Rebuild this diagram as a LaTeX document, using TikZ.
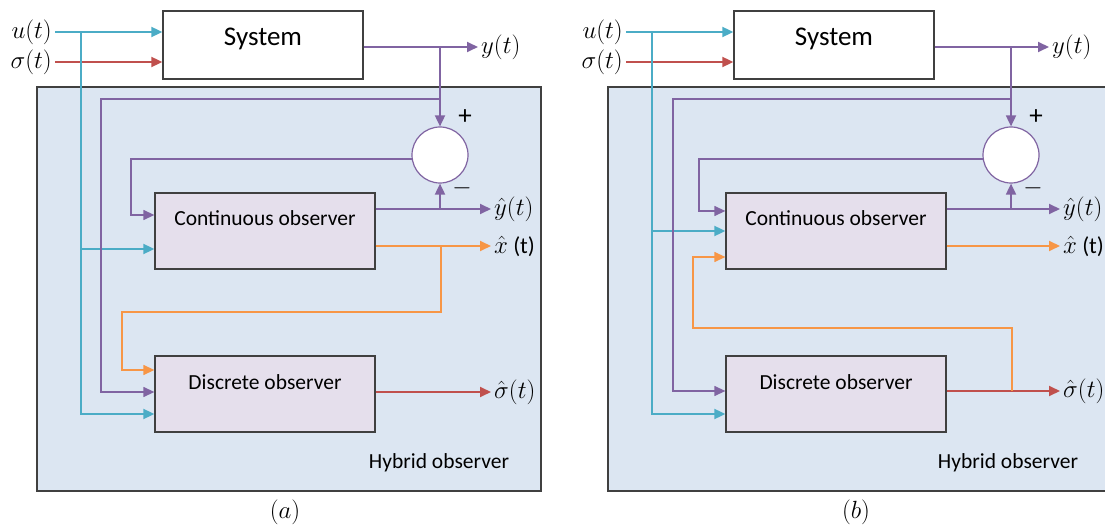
\documentclass[tikz,border=0pt]{standalone}
\usepackage{fontspec}
\setmainfont{Carlito}
\usetikzlibrary{arrows.meta, positioning, calc}
\definecolor{cyanline}{HTML}{4BACC6}
\definecolor{redline}{HTML}{C0504D}
\definecolor{purpleline}{HTML}{8064A2}
\definecolor{orangeline}{HTML}{F79646}
\definecolor{hybfill}{HTML}{DCE6F2}
\definecolor{obsfill}{HTML}{E5DFEC}
\definecolor{boxline}{HTML}{404040}
\tikzset{
    sysbox/.style={rectangle, draw=boxline, fill=white, line width=1.3pt, minimum width=200pt, minimum height=68pt, text height=20pt, text depth=18pt, inner sep=0pt, font=\fontsize{27}{30}\selectfont},
    obsbox/.style={rectangle, draw=boxline, fill=obsfill, line width=1.3pt, minimum width=220pt, minimum height=76pt, text height=15pt, text depth=25pt, inner sep=0pt, font=\fontsize{21.5}{26}\selectfont},
    hybbox/.style={rectangle, draw=boxline, fill=hybfill, line width=1.3pt, minimum height=404pt, inner sep=0pt},
    sumnode/.style={circle, draw=purpleline, fill=white, line width=1.2pt, minimum size=56pt, inner sep=0pt},
    siglabel/.style={inner sep=3pt, font=\fontsize{23}{26}\selectfont},
    plainlabel/.style={inner sep=0pt, font=\fontsize{21.5}{26}\selectfont},
    signlabel/.style={inner sep=0pt, font=\fontsize{27}{30}\selectfont},
    tip/.style={-{Triangle[length=11pt,width=10pt]}},
    cyanarr/.style={tip, draw=cyanline, line width=1.8pt},
    cyanthin/.style={draw=cyanline, line width=1.3pt},
    redarr/.style={tip, draw=redline, line width=1.8pt},
    purparr/.style={tip, draw=purpleline, line width=1.8pt},
    purpthin/.style={tip, draw=purpleline, line width=1.3pt},
    orangearr/.style={tip, draw=orangeline, line width=1.8pt},
    orangethin/.style={tip, draw=orangeline, line width=1.3pt}
}
\begin{document}
\begin{tikzpicture}[x=1pt, y=-1pt]
    \useasboundingbox (0,0) rectangle (1105,526);

    % (a)
    \node[hybbox, minimum width=504pt] (hyba) at (289,289) {};
    \node[sysbox] (sysa) at (263,45) {System};
    \node[obsbox] (conta) at (265,231) {Continuous observer};
    \node[obsbox] (disca) at (265,394) {Discrete observer};
    \node[sumnode] (suma) at (440,155) {};
    \node[signlabel] (plusa) at (465,117) {+};
    \node[signlabel] (minusa) at (462,188) {$-$};
    \node[plainlabel] (hybtexta) at (439,463) {Hybrid observer};
    \node[siglabel, anchor=east] (ua) at (55,32) {$u(t)$};
    \node[siglabel, anchor=east] (sa) at (55,62) {$\sigma(t)$};
    \node[siglabel, anchor=west] (ya) at (478,47) {$y(t)$};
    \node[siglabel, anchor=west] (yha) at (491,209) {$\hat{y}(t)$};
    \node[siglabel, anchor=west] (xha) at (491,246) {$\hat{x}$ (t)};
    \node[siglabel, anchor=west] (sha) at (491,392) {$\hat{\sigma}(t)$};
    \node[siglabel] (capa) at (285,512) {$(a)$};
    \coordinate (cya) at (81,32);
    \coordinate (fboa) at (101,99);
    \coordinate (fbia) at (131,159);
    \coordinate (ora) at (441,312);
    \coordinate (ola) at (122,312);

    \draw[cyanarr] (ua.east) -- (ua.east -| sysa.west);
    \draw[redarr] (sa.east) -- (sa.east -| sysa.west);
    \draw[cyanthin] (cya) -- (cya |- disca.west);
    \draw[cyanarr] (cya) |- ($(conta.west)+(0,18)$);
    \draw[cyanarr] (cya) |- ($(disca.west)+(0,20)$);
    \draw[purparr] (sysa.east |- ya.west) -- (ya.west);
    \draw[purparr] (suma.north |- ya.west) -- (suma.north);
    \draw[purpthin] (suma.north |- fboa) -- (fboa) |- ($(disca.west)+(0,-2)$);
    \draw[purpthin] (suma.188) -- (suma.188 -| fbia) |- ($(conta.west)+(0,-16)$);
    \draw[purparr] (conta.east |- yha.west) -- (yha.west);
    \draw[purparr] (suma.south |- yha.west) -- (suma.south);
    \draw[orangearr] (conta.east |- xha.west) -- (xha.west);
    \draw[orangethin] (ora |- xha.west) -- (ora) -- (ola) |- ($(disca.west)+(0,-24)$);
    \draw[redarr] (disca.east |- sha.west) -- (sha.west);

    % (b)
    \node[hybbox, minimum width=498pt] (hybb) at (857,289) {};
    \node[sysbox] (sysb) at (834,45) {System};
    \node[obsbox] (contb) at (836,231) {Continuous observer};
    \node[obsbox] (discb) at (836,394) {Discrete observer};
    \node[sumnode] (sumb) at (1011,155) {};
    \node[signlabel] (plusb) at (1036,117) {+};
    \node[signlabel] (minusb) at (1033,188) {$-$};
    \node[plainlabel] (hybtextb) at (1008,463) {Hybrid observer};
    \node[siglabel, anchor=east] (ub) at (626,32) {$u(t)$};
    \node[siglabel, anchor=east] (sb) at (626,62) {$\sigma(t)$};
    \node[siglabel, anchor=west] (yb) at (1049,47) {$y(t)$};
    \node[siglabel, anchor=west] (yhb) at (1060,209) {$\hat{y}(t)$};
    \node[siglabel, anchor=west] (xhb) at (1060,246) {$\hat{x}$ (t)};
    \node[siglabel, anchor=west] (shb) at (1060,391) {$\hat{\sigma}(t)$};
    \node[siglabel] (capb) at (856,512) {$(b)$};
    \coordinate (cyb) at (652,32);
    \coordinate (fbob) at (673,99);
    \coordinate (fbib) at (699,159);
    \coordinate (orb) at (1012,328);
    \coordinate (olb) at (693,328);

    \draw[cyanarr] (ub.east) -- (ub.east -| sysb.west);
    \draw[redarr] (sb.east) -- (sb.east -| sysb.west);
    \draw[cyanthin] (cyb) -- (cyb |- discb.west);
    \draw[cyanarr] (cyb) |- (contb.west);
    \draw[cyanarr] (cyb) |- ($(discb.west)+(0,20)$);
    \draw[purparr] (sysb.east |- yb.west) -- (yb.west);
    \draw[purparr] (sumb.north |- yb.west) -- (sumb.north);
    \draw[purpthin] (sumb.north |- fbob) -- (fbob) |- ($(discb.west)+(0,-3)$);
    \draw[purpthin] (sumb.188) -- (sumb.188 -| fbib) |- ($(contb.west)+(0,-20)$);
    \draw[purparr] (contb.east |- yhb.west) -- (yhb.west);
    \draw[purparr] (sumb.south |- yhb.west) -- (sumb.south);
    \draw[orangearr] (contb.east |- xhb.west) -- (xhb.west);
    \draw[redarr] (discb.east |- shb.west) -- (shb.west);
    \draw[orangethin] (orb |- shb.west) -- (orb) -- (olb) |- ($(contb.west)+(0,26)$);
\end{tikzpicture}
\end{document}
